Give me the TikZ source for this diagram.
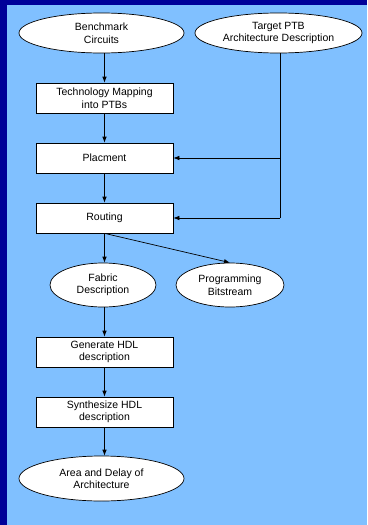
\documentclass[tikz,border=0pt]{standalone}
\usepackage{fontspec}
\setmainfont{Liberation Sans}
\usetikzlibrary{shapes.geometric,arrows.meta}
\definecolor{darkbg}{HTML}{000099}
\definecolor{lightbg}{HTML}{80C0FF}
\begin{document}
\begin{tikzpicture}[x=1pt,y=-1pt,
  every node/.style={font=\fontsize{10.5}{12.5}\selectfont, align=center, inner sep=0pt},
  procbox/.style={draw=black, fill=white, line width=0.7pt, rectangle, minimum width=137pt, minimum height=30pt},
  databox/.style={draw=black, fill=white, line width=0.7pt, ellipse},
  conn/.style={draw=black, line width=0.7pt, -{Latex[length=6pt,width=4.5pt]}},
  plain/.style={draw=black, line width=0.7pt}]
\fill[darkbg] (0,0) rectangle (367,525);
\fill[lightbg] (7,5) rectangle (367,525);
\useasboundingbox (0,0) rectangle (367,525);
\node[databox, minimum width=165pt, minimum height=40pt] (bench) at (101.5,33) {Benchmark\\Circuits};
\node[databox, minimum width=167pt, minimum height=40pt] (target) at (278.5,33) {Target PTB\\Architecture Description};
\node[procbox] (tech) at (104.5,98) {Technology Mapping\\into PTBs};
\node[procbox] (place) at (104.5,158) {Placment};
\node[procbox] (route) at (104.5,218) {Routing};
\node[databox, minimum width=106pt, minimum height=44pt] (fabric) at (103,285) {Fabric\\Description};
\node[databox, minimum width=108pt, minimum height=44pt] (prog) at (230,285) {Programming\\Bitstream};
\node[procbox] (gen) at (104.5,352) {Generate HDL\\description};
\node[procbox] (synth) at (104.5,412) {Synthesize HDL\\description};
\node[databox, minimum width=165pt, minimum height=45pt] (area) at (101.5,478.5) {Area and Delay of\\Architecture};
\coordinate (tbend) at (280,218);
\coordinate (tmid) at (280,158);
\draw[conn] (bench.south -| tech.north) -- (tech.north);
\draw[conn] (tech) -- (place);
\draw[conn] (place) -- (route);
\draw[conn] (route.south) -- (fabric.north -| route.south);
\draw[conn] (route.south) -- (prog.north);
\draw[conn] (fabric.south -| gen.north) -- (gen.north);
\draw[conn] (gen) -- (synth);
\draw[conn] (synth.south) -- (area.north -| synth.south);
\draw[plain] (target.south -| tbend) -- (tbend);
\draw[conn] (tbend) -- (route.east);
\draw[conn] (tmid) -- (place.east);
\end{tikzpicture}
\end{document}
